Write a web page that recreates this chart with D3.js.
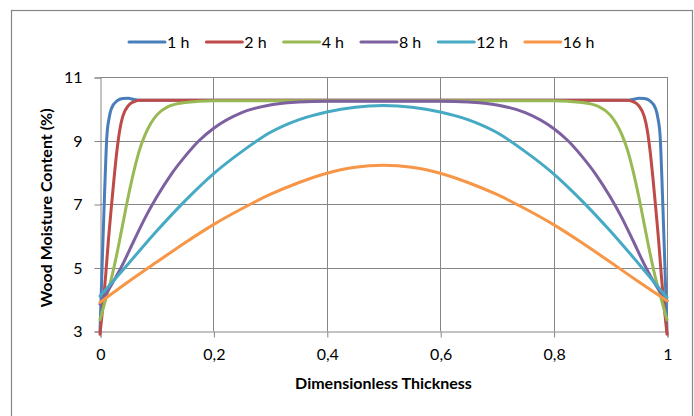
<!DOCTYPE html>
<html><head><meta charset="utf-8">
<script src="https://cdn.jsdelivr.net/npm/d3@7"></script>
<style>
html,body{margin:0;padding:0;background:#fff;}
svg{display:block;}
text{font-family:Lato,"Open Sans",sans-serif;fill:#000;}
</style></head>
<body>
<svg id="chart" width="694" height="416"></svg>
<script>
// ---- Data ----
const seriesNames = ["1 h", "2 h", "4 h", "8 h", "12 h", "16 h"];

const thickness1h = [0, 0.004, 0.008, 0.012, 0.016, 0.02, 0.03, 0.04, 0.05, 0.06, 0.07, 0.1, 0.5, 0.9, 0.93, 0.94, 0.95, 0.96, 0.97, 0.98, 0.984, 0.988, 0.992, 0.996, 1];
const moisture1h  = [3.0, 5.2, 7.3, 9.1, 9.7, 10.0, 10.25, 10.32, 10.33, 10.29, 10.27, 10.27, 10.27, 10.27, 10.27, 10.29, 10.33, 10.32, 10.25, 10.0, 9.7, 9.1, 7.3, 5.2, 3.0];

const thickness2h = [0, 0.005, 0.01, 0.015, 0.02, 0.025, 0.03, 0.035, 0.04, 0.05, 0.06, 0.07, 0.1, 0.5, 0.9, 0.93, 0.94, 0.95, 0.96, 0.965, 0.97, 0.975, 0.98, 0.985, 0.99, 0.995, 1];
const moisture2h  = [2.9, 3.75, 4.75, 5.9, 6.9, 7.85, 8.7, 9.35, 9.75, 10.1, 10.22, 10.27, 10.27, 10.27, 10.27, 10.27, 10.22, 10.1, 9.75, 9.35, 8.7, 7.85, 6.9, 5.9, 4.75, 3.75, 2.9];

const thickness4h = [0, 0.01, 0.02, 0.03, 0.04, 0.05, 0.06, 0.07, 0.08, 0.09, 0.1, 0.12, 0.15, 0.2, 0.5, 0.8, 0.85, 0.88, 0.9, 0.91, 0.92, 0.93, 0.94, 0.95, 0.96, 0.97, 0.98, 0.99, 1];
const moisture4h  = [3.35, 4.0, 4.65, 5.45, 6.35, 7.25, 8.05, 8.72, 9.2, 9.55, 9.8, 10.07, 10.2, 10.25, 10.25, 10.25, 10.2, 10.07, 9.8, 9.55, 9.2, 8.72, 8.05, 7.25, 6.35, 5.45, 4.65, 4.0, 3.35];

const thickness8h = [0, 0.02, 0.04, 0.06, 0.08, 0.1, 0.125, 0.15, 0.175, 0.2, 0.25, 0.3, 0.35, 0.4, 0.5, 0.6, 0.65, 0.7, 0.75, 0.8, 0.825, 0.85, 0.875, 0.9, 0.92, 0.94, 0.96, 0.98, 1];
const moisture8h  = [3.85, 4.45, 5.1, 5.85, 6.58, 7.22, 7.92, 8.5, 9.0, 9.38, 9.88, 10.12, 10.21, 10.24, 10.24, 10.24, 10.21, 10.12, 9.88, 9.38, 9.0, 8.5, 7.92, 7.22, 6.58, 5.85, 5.1, 4.45, 3.95];

const thickness12h = [0, 0.05, 0.1, 0.15, 0.2, 0.25, 0.3, 0.35, 0.4, 0.45, 0.5, 0.55, 0.6, 0.65, 0.7, 0.75, 0.8, 0.85, 0.9, 0.95, 1];
const moisture12h  = [4.1, 5.12, 6.15, 7.1, 7.95, 8.65, 9.25, 9.65, 9.9, 10.05, 10.1, 10.05, 9.9, 9.65, 9.25, 8.65, 7.95, 7.1, 6.15, 5.12, 4.05];

const thickness16h = [0, 0.05, 0.1, 0.15, 0.2, 0.25, 0.3, 0.35, 0.4, 0.45, 0.5, 0.55, 0.6, 0.65, 0.7, 0.75, 0.8, 0.85, 0.9, 0.95, 1];
const moisture16h  = [3.9, 4.55, 5.17, 5.78, 6.35, 6.85, 7.3, 7.67, 7.97, 8.16, 8.22, 8.16, 7.97, 7.67, 7.3, 6.85, 6.35, 5.78, 5.17, 4.55, 3.95];

const xTicks = [0, 0.2, 0.4, 0.6, 0.8, 1];
const yTicks = [3, 5, 7, 9, 11];
const xTickLabels = ["0", "0,2", "0,4", "0,6", "0,8", "1"];
const yTickLabels = ["3", "5", "7", "9", "11"];
const xTitle = "Dimensionless Thickness";
const yTitle = "Wood Moisture Content (%)";

const colors = ["#4A7EBB", "#BE4B48", "#98B954", "#7D60A0", "#46AAC5", "#F79646"];

const seriesX = [thickness1h, thickness2h, thickness4h, thickness8h, thickness12h, thickness16h];
const seriesY = [moisture1h, moisture2h, moisture4h, moisture8h, moisture12h, moisture16h];
const series = seriesNames.map((name, i) => ({
  name, color: colors[i],
  points: seriesX[i].map((t, j) => ({t, v: seriesY[i][j]}))
}));

// ---- Layout ----
const svg = d3.select("#chart");
const W = 694, H = 416;
const plot = {left: 100, right: 667, top: 77, bottom: 331};
const grid = "#868686";

svg.append("rect").attr("x", 0).attr("y", 0).attr("width", W).attr("height", H).attr("fill", "#fff");
svg.append("rect").attr("x", 11.5).attr("y", 10.5).attr("width", 681).attr("height", 430)
  .attr("fill", "none").attr("stroke", grid).attr("stroke-width", 1.2);

const x = d3.scaleLinear().domain([0, 1]).range([plot.left, plot.right]);
const y = d3.scaleLinear().domain([3, 11]).range([plot.bottom, plot.top]);

// gridlines
const g = svg.append("g");
g.selectAll("line.h").data(yTicks.filter(d => d > 3)).join("line")
  .attr("x1", plot.left).attr("x2", plot.right)
  .attr("y1", d => Math.round(y(d)) + 0.5).attr("y2", d => Math.round(y(d)) + 0.5)
  .attr("stroke", grid).attr("stroke-width", 1);
g.selectAll("line.v").data(xTicks.filter(d => d > 0)).join("line")
  .attr("y1", plot.top).attr("y2", plot.bottom)
  .attr("x1", d => Math.round(x(d)) + 0.5).attr("x2", d => Math.round(x(d)) + 0.5)
  .attr("stroke", grid).attr("stroke-width", 1);

// axes
const yAxis = d3.axisLeft(y).tickValues(yTicks).tickSize(6).tickPadding(12)
  .tickFormat((d, i) => yTickLabels[i]);
const xAxis = d3.axisBottom(x).tickValues(xTicks).tickSize(6).tickPadding(11)
  .tickFormat((d, i) => xTickLabels[i]);

const ya = svg.append("g").attr("transform", `translate(${plot.left + 0.5},0.5)`).call(yAxis);
const xa = svg.append("g").attr("transform", `translate(0.5,${plot.bottom + 0.5})`).call(xAxis);
[ya, xa].forEach(a => {
  a.select(".domain").attr("stroke", grid);
  a.selectAll(".tick line").attr("stroke", grid);
  a.selectAll(".tick text").attr("font-family", "Lato, sans-serif").attr("font-size", 16).attr("fill", "#000");
});

// lines
const line = d3.line().x(d => x(d.t)).y(d => y(d.v)).curve(d3.curveMonotoneX);
svg.append("g").selectAll("path").data(series).join("path")
  .attr("d", d => line(d.points))
  .attr("fill", "none").attr("stroke", d => d.color)
  .attr("stroke-width", 3).attr("stroke-linejoin", "round").attr("stroke-linecap", "round");

// axis titles
svg.append("text").attr("x", (plot.left + plot.right) / 2).attr("y", 389)
  .attr("text-anchor", "middle").attr("font-size", 16).attr("font-weight", "bold").text(xTitle);
svg.append("text").attr("transform", `translate(52,${(plot.top + plot.bottom) / 2 + 4}) rotate(-90)`)
  .attr("text-anchor", "middle").attr("font-size", 16).attr("font-weight", "bold").text(yTitle);

// legend
const leg = svg.append("g");
let lx = 129;
const ly = 42;
series.forEach(s => {
  leg.append("line").attr("x1", lx).attr("x2", lx + 36).attr("y1", ly).attr("y2", ly)
    .attr("stroke", s.color).attr("stroke-width", 3).attr("stroke-linecap", "round");
  const t = leg.append("text").attr("x", lx + 38).attr("y", ly + 6)
    .attr("font-size", 16).text(s.name);
  lx += 38 + t.node().getComputedTextLength() + 17;
});
</script>
</body></html>
